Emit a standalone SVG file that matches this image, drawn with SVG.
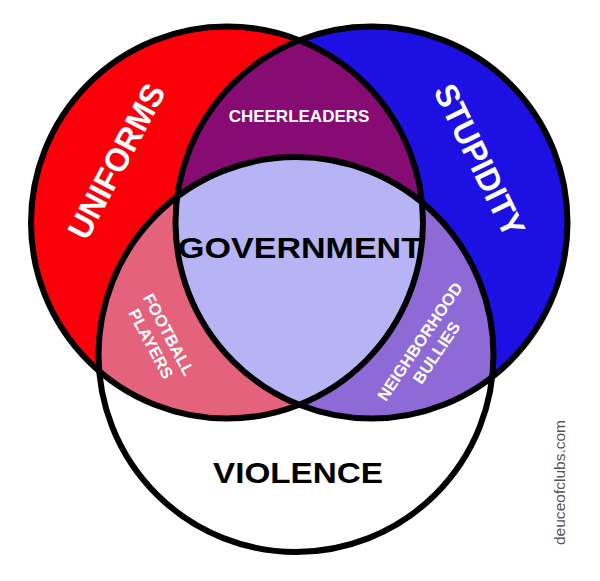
<svg xmlns="http://www.w3.org/2000/svg" width="600" height="581" viewBox="0 0 600 581">
<style>
.outline{fill:none;stroke:#000;stroke-width:6}
.big{font-family:"Liberation Sans",Arial,Helvetica,sans-serif;font-weight:bold;text-anchor:middle}
.w{fill:#fff}
.k{fill:#000}
.credit{font-family:"Liberation Sans",Arial,Helvetica,sans-serif;font-size:15px;fill:#555;text-anchor:middle}
</style>
<defs>
<clipPath id="cRed"><circle cx="227" cy="222.5" r="196"/></clipPath>
<clipPath id="cBlue"><circle cx="371.5" cy="222.5" r="196"/></clipPath>
</defs>
<rect width="600" height="581" fill="#fff"/>
<g id="fills">
<circle id="red" cx="227" cy="222.5" r="196" fill="#FB0008"/>
<circle id="blue" cx="371.5" cy="222.5" r="196" fill="#1C11E2"/>
<circle id="bottom" cx="296" cy="354.5" r="197.5" fill="#fff"/>
<circle id="cheer" cx="371.5" cy="222.5" r="196" fill="#860C73" clip-path="url(#cRed)"/>
<circle id="football" cx="296" cy="354.5" r="197.5" fill="#E4627B" clip-path="url(#cRed)"/>
<circle id="bullies" cx="296" cy="354.5" r="197.5" fill="#8E6AD6" clip-path="url(#cBlue)"/>
<g clip-path="url(#cBlue)"><circle id="gov" cx="296" cy="354.5" r="197.5" fill="#B6B4F4" clip-path="url(#cRed)"/></g>
</g>
<g id="outlines">
<circle class="outline" cx="227" cy="222.5" r="196"/>
<circle class="outline" cx="371.5" cy="222.5" r="196"/>
<circle class="outline" cx="296" cy="354.5" r="197.5"/>
</g>
<g id="node-uniforms"><text class="big w" font-size="33" textLength="170" lengthAdjust="spacingAndGlyphs" transform="translate(116,161) rotate(-62)" y="12">UNIFORMS</text></g>
<g id="node-stupidity"><text class="big w" font-size="33" textLength="165" lengthAdjust="spacingAndGlyphs" transform="translate(480,160) rotate(64)" y="12">STUPIDITY</text></g>
<g id="node-cheerleaders"><text class="big w" font-size="17" x="299" y="122">CHEERLEADERS</text></g>
<g id="node-government"><text class="big k" font-size="30" x="300" y="258" textLength="244" lengthAdjust="spacingAndGlyphs">GOVERNMENT</text></g>
<g id="node-violence"><text class="big k" font-size="30" x="298" y="483" textLength="170" lengthAdjust="spacingAndGlyphs">VIOLENCE</text></g>
<g id="node-football" transform="translate(160,339) rotate(62)">
<text class="big w" font-size="16.5" y="-4">FOOTBALL</text>
<text class="big w" font-size="16.5" y="16">PLAYERS</text>
</g>
<g id="node-bullies" transform="translate(428,347) rotate(-56)">
<text class="big w" font-size="16.5" y="-4">NEIGHBORHOOD</text>
<text class="big w" font-size="16.5" y="16">BULLIES</text>
</g>
<g id="credit"><text class="credit" transform="translate(565,482.5) rotate(-90)" textLength="125" lengthAdjust="spacingAndGlyphs">deuceofclubs.com</text></g>
</svg>
